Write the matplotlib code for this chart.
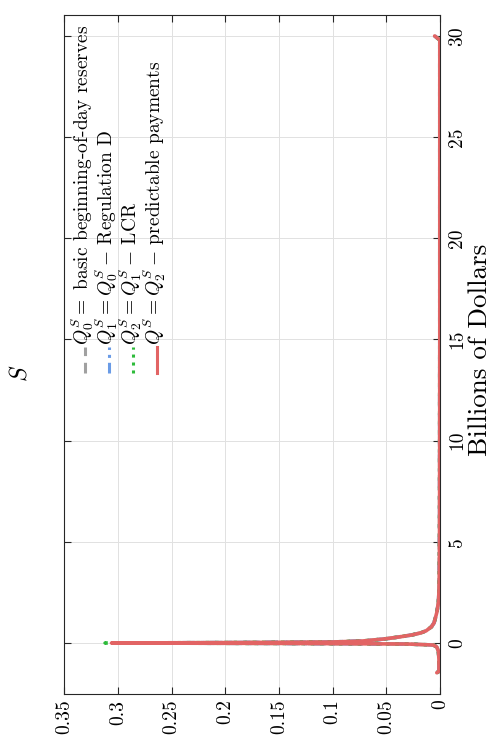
import numpy as np
import matplotlib
matplotlib.use("Agg")
import matplotlib.pyplot as plt

plt.rcParams['font.family'] = ['cmr10', 'DejaVu Serif']
plt.rcParams['mathtext.fontset'] = 'cm'
plt.rcParams['axes.formatter.use_mathtext'] = True

# Billions of dollars (vertical axis in the rotated picture)
x_bn = [-1.47, -1.4, -1.2, -0.8, -0.4, -0.2, -0.1, -0.05, -0.02, 0.0,
        0.02, 0.05, 0.1, 0.15, 0.2, 0.3, 0.4, 0.5, 0.6, 0.8,
        1.0, 1.2, 1.5, 2.0, 2.5, 3.0, 4.0, 6.0, 10.0, 15.0,
        20.0, 25.0, 29.8, 30.0]

# densities of the four series
q0 = [0.003, 0.001, 0.001, 0.001, 0.0015, 0.003, 0.006, 0.03, 0.15, 0.300,
      0.2, 0.1, 0.071, 0.061, 0.051, 0.038, 0.026, 0.018, 0.013, 0.008,
      0.0055, 0.0045, 0.003, 0.0015, 0.001, 0.0008, 0.0006, 0.0004, 0.0003, 0.0002,
      0.0002, 0.0002, 0.0002, 0.005]
q1 = [0.003, 0.001, 0.001, 0.001, 0.0015, 0.003, 0.006, 0.03, 0.15, 0.303,
      0.2, 0.1, 0.071, 0.061, 0.051, 0.038, 0.026, 0.018, 0.013, 0.008,
      0.0055, 0.0045, 0.003, 0.0015, 0.001, 0.0008, 0.0006, 0.0004, 0.0003, 0.0002,
      0.0002, 0.0002, 0.0002, 0.005]
q2 = [0.003, 0.001, 0.001, 0.001, 0.0015, 0.003, 0.006, 0.03, 0.15, 0.312,
      0.2, 0.1, 0.072, 0.062, 0.052, 0.038, 0.026, 0.018, 0.013, 0.008,
      0.0055, 0.0045, 0.003, 0.0015, 0.001, 0.0008, 0.0006, 0.0004, 0.0003, 0.0002,
      0.0002, 0.0002, 0.0002, 0.005]
qs = [0.003, 0.001, 0.001, 0.001, 0.0015, 0.003, 0.006, 0.03, 0.15, 0.306,
      0.2, 0.1, 0.072, 0.062, 0.052, 0.038, 0.026, 0.018, 0.013, 0.008,
      0.0055, 0.0045, 0.003, 0.0015, 0.001, 0.0008, 0.0006, 0.0004, 0.0003, 0.0002,
      0.0002, 0.0002, 0.0002, 0.005]

labels = [r"$Q_0^S =$ basic beginning-of-day reserves",
          r"$Q_1^S = Q_0^S\,{-}$ Regulation D",
          r"$Q_2^S = Q_1^S\,{-}$ LCR",
          r"$Q^S = Q_2^S\,{-}$ predictable payments"]
colors = ['#a0a0a0', '#6a9be6', '#2dbb3a', '#e26464']
styles = [(0, (3.5, 2.2)), (0, (3.5, 1.6, 1, 1.6)), (0, (1, 1.6)), '-']

dens_ticks = [0, 0.05, 0.1, 0.15, 0.2, 0.25, 0.3, 0.35]
dens_labels = ['0', '0.05', '0.1', '0.15', '0.2', '0.25', '0.3', '0.35']
bn_ticks = [0, 5, 10, 15, 20, 25, 30]

fig = plt.figure(figsize=(4.92, 7.42), dpi=100)
ax = fig.add_axes([64.3 / 492, 48 / 742, 375.7 / 492, 678.7 / 742])

for ys, c, ls in zip([q0, q1, q2, qs], colors, styles):
    ax.plot(ys, x_bn, color=c, ls=ls, lw=2.6, solid_capstyle='round')

ax.set_xlim(0.35, 0)
ax.set_ylim(-2.52, 31.02)
ax.set_axisbelow(True)
ax.grid(True, color='#e1e1e1', lw=0.7)

ax.set_xticks(dens_ticks)
ax.set_xticklabels(dens_labels, rotation=90, fontsize=14)
ax.set_yticks(bn_ticks)
ax.set_yticklabels([str(t) for t in bn_ticks], rotation=90, fontsize=14,
                   va='center')
ax.tick_params(axis='x', bottom=True, top=True, direction='in', length=5,
               width=0.8, color='#262626', pad=4)
ax.tick_params(axis='y', left=True, right=True, labelleft=False,
               labelright=True, direction='in', length=5, width=0.8,
               color='#262626', pad=6)
for sp in ax.spines.values():
    sp.set_color('#262626')
    sp.set_linewidth(0.8)

ax.yaxis.set_label_position('right')
ax.set_ylabel('Billions of Dollars', fontsize=19.5, rotation=90)
ax.yaxis.set_label_coords((468 - 64.3) / 375.7, (694 - 350) / 678.7)

fig.text(20 / 492, 1 - 373 / 742, r'$S$', rotation=90, fontsize=17,
         ha='center', va='center')

# legend drawn by hand so that it reads sideways like the rest
row_x = [85, 109, 133, 157]
for px, lab, c, ls in zip(row_x, labels, colors, styles):
    fx = (px - 64.3) / 375.7
    ax.plot([fx, fx], [(694 - 373) / 678.7, (694 - 347) / 678.7],
            transform=ax.transAxes, color=c, ls=ls, lw=2.2)
    ax.text(fx + 4 / 375.7, (694 - 345) / 678.7, lab,
            transform=ax.transAxes, rotation=90, rotation_mode='anchor',
            ha='left', va='baseline', fontsize=14)

fig.savefig('out.png', dpi=100)
